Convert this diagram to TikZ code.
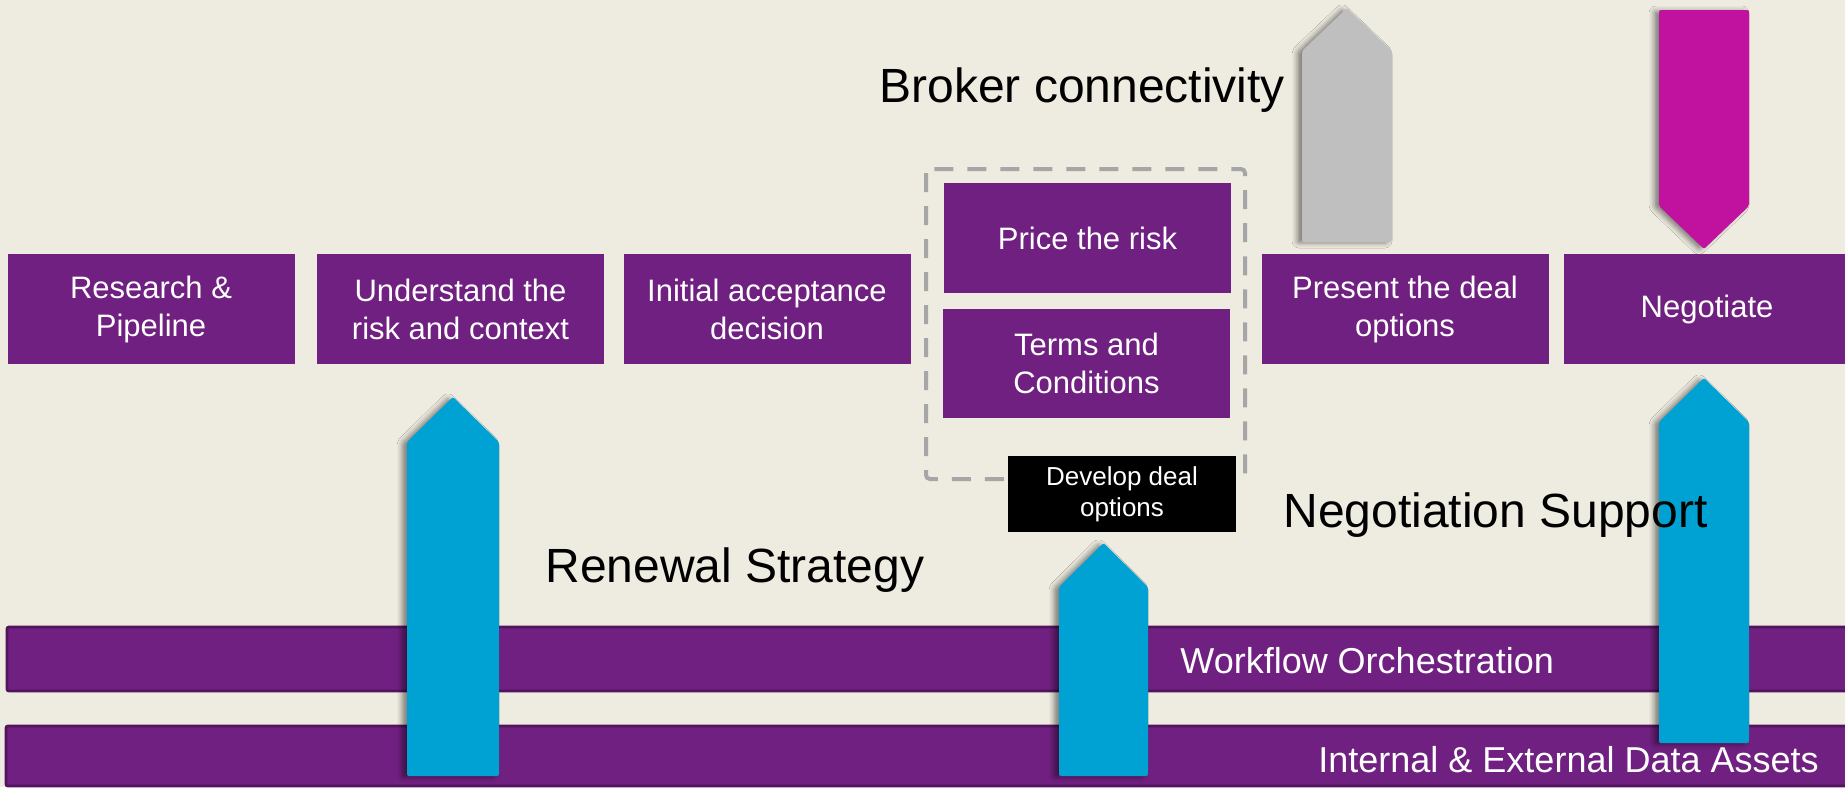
\documentclass[tikz,border=0pt]{standalone}
\usepackage{fontspec}
\setmainfont{Liberation Sans}
\usetikzlibrary{shadows.blur}

\definecolor{bgcream}{RGB}{238,235,224}
\definecolor{stagepurple}{RGB}{112,32,128}
\definecolor{bardark}{RGB}{82,20,92}
\definecolor{flowblue}{RGB}{0,161,211}
\definecolor{brokergray}{RGB}{191,191,191}
\definecolor{negmagenta}{RGB}{192,18,158}
\definecolor{dashgray}{RGB}{166,166,166}

\begin{document}
\begin{tikzpicture}[x=0.5pt,y=-0.5pt,
  stage/.style={rectangle,fill=stagepurple,text=white,font=\fontsize{15.5}{19}\selectfont,
    align=center,inner sep=0pt,minimum width=143.5pt,minimum height=55pt},
  layer/.style={draw=bardark,line width=1.4pt,fill=stagepurple,rounded corners=1pt},
  bigtext/.style={font=\fontsize{24}{28}\selectfont,anchor=base west,inner sep=0pt},
  layertext/.style={font=\fontsize{18}{22}\selectfont,text=white,anchor=base west,inner sep=0pt},
  blockarrow/.style={rounded corners=1pt,
    blur shadow={shadow xshift=-2.5pt,shadow yshift=-0.5pt,shadow blur radius=2.5pt,shadow opacity=45}}]
\fill[bgcream] (0,0) rectangle (1845,787);
\useasboundingbox (0,0) rectangle (1845,787);

% platform layers
\draw[layer] (7,627) rectangle (1870,691);
\draw[layer] (6,726) rectangle (1870,786);
\node[layertext] (flow) at (1180,673) {Workflow Orchestration};
\node[layertext] (data) at (1318,772) {Internal \& External Data Assets};

% process stages
\node[stage] (s1) at (151,309) {Research \&\\Pipeline};
\node[stage] (s2) at (460.5,309) {Understand the\\risk and context};
\node[stage] (s3) at (767,309) {Initial acceptance\\decision};
\node[stage] (s4a) at (1087.5,238) {Price the risk};
\node[stage,minimum height=54.5pt] (s4b) at (1086.5,363.5) {Terms and\\Conditions};
\node[stage] (s5) at (1405,309) {Present the deal\\options};
\node[stage] (s6) at (1707,309) {Negotiate};

\draw[dashgray,line width=2pt,dash pattern=on 9.5pt off 7pt,rounded corners=2pt]
  (926,169) rectangle (1245,479);
\node[fill=black,text=white,font=\fontsize{13}{15.5}\selectfont,align=center,
  inner sep=0pt,minimum width=114pt,minimum height=38pt] (dev) at (1122,494) {Develop deal\\options};

% support arrows
\fill[flowblue,blockarrow] (407,776) -- (407,442) -- (453,397) -- (499,442) -- (499,776) -- cycle;
\fill[flowblue,blockarrow] (1059,776) -- (1059,587) -- (1103.5,543) -- (1148,587) -- (1148,776) -- cycle;
\fill[flowblue,blockarrow] (1659,743) -- (1659,422) -- (1704,378) -- (1749,422) -- (1749,743) -- cycle;
\fill[brokergray,blockarrow] (1302,242) -- (1302,51) -- (1347,8) -- (1392,51) -- (1392,242) -- cycle;
\fill[negmagenta,blockarrow] (1659,10) -- (1749,10) -- (1749,206) -- (1704,249) -- (1659,206) -- cycle;

\node[bigtext] (broker) at (879,102) {Broker connectivity};
\node[bigtext] (renewal) at (545,582) {Renewal Strategy};
\node[bigtext] (negsup) at (1283,527) {Negotiation Support};
\end{tikzpicture}
\end{document}
